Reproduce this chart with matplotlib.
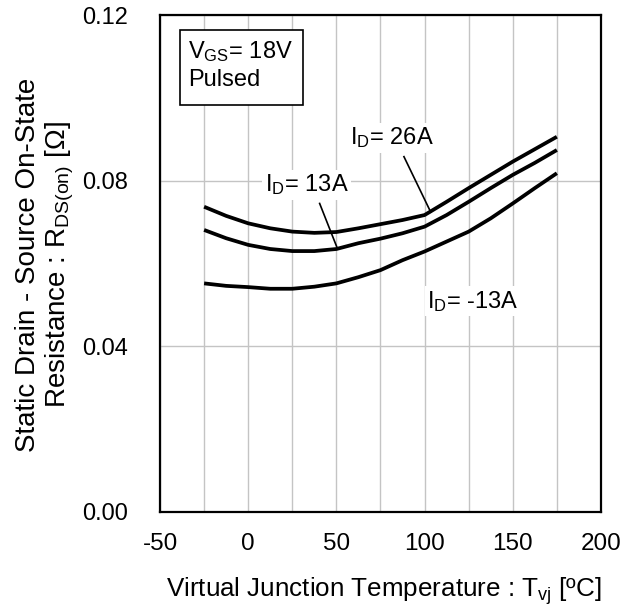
import matplotlib
matplotlib.use("Agg")
import matplotlib.pyplot as plt
from matplotlib.patches import Rectangle
import numpy as np

plt.rcParams['font.family'] = ['Liberation Sans', 'DejaVu Sans']
plt.rcParams['mathtext.fontset'] = 'custom'
plt.rcParams['mathtext.rm'] = 'Liberation Sans'
plt.rcParams['mathtext.it'] = 'Liberation Sans:italic'

# junction temperature [degC]
temp = [-25, -12.5, 0, 12.5, 25, 37.5, 50, 62.5, 75, 87.5, 100, 112.5, 125, 137.5, 150, 162.5, 175]

# on-state resistance [ohm]
rds_26a = [0.0737, 0.0715, 0.0697, 0.0685, 0.0677, 0.0674, 0.0676, 0.0685, 0.0695,
           0.0705, 0.0717, 0.0749, 0.0782, 0.0814, 0.0846, 0.0876, 0.0906]
rds_13a = [0.0681, 0.0661, 0.0645, 0.0635, 0.0630, 0.0630, 0.0635, 0.0649, 0.0660,
           0.0673, 0.0689, 0.0717, 0.0749, 0.0782, 0.0814, 0.0843, 0.0874]
rds_m13a = [0.0552, 0.0546, 0.0543, 0.0539, 0.0539, 0.0544, 0.0552, 0.0567, 0.0584,
            0.0608, 0.0629, 0.0653, 0.0677, 0.0709, 0.0745, 0.0782, 0.0818]

xticks = [-50, 0, 50, 100, 150, 200]
yticks = [0.00, 0.04, 0.08, 0.12]

fs = 17
fig = plt.figure(figsize=(6.29, 6.13), dpi=100)
ax = fig.add_axes([0.2544, 0.1648, 0.701, 0.8107])

for rds in (rds_26a, rds_13a, rds_m13a):
    ax.plot(temp, rds, color='black', lw=2.7, solid_capstyle='butt', zorder=3)

ax.set_xlim(-50, 200)
ax.set_ylim(0, 0.12)
ax.set_xticks(xticks)
ax.set_xticklabels([str(t) for t in xticks])
ax.set_xticks(np.arange(-50, 201, 25), minor=True)
ax.set_yticks(yticks)
ax.set_yticklabels(['%.2f' % t for t in yticks])
ax.grid(which='both', axis='x', color='#c4c4c4', lw=1.0, zorder=0)
ax.grid(which='major', axis='y', color='#c4c4c4', lw=1.0, zorder=0)
ax.tick_params(axis='both', which='both', length=0, labelsize=fs)
ax.tick_params(axis='x', pad=15, labelsize=17.5)
ax.tick_params(axis='y', pad=23)
for s in ax.spines.values():
    s.set_linewidth(1.6)

# condition box
ax.add_patch(Rectangle((0.0454, 0.819), 0.279, 0.151, transform=ax.transAxes,
                       fill=True, facecolor='white', edgecolor='black', lw=1.2, zorder=4))
ax.text(0.0635, 0.926, r'V$_\mathregular{GS}$= 18V', transform=ax.transAxes,
        fontsize=fs, ha='left', va='center', zorder=5)
ax.text(0.0635, 0.869, 'Pulsed', transform=ax.transAxes,
        fontsize=fs, ha='left', va='center', zorder=5)

# curve labels with leader lines
box = dict(facecolor='white', edgecolor='none', pad=2)
ax.text(81.7, 0.0903, r'I$_\mathregular{D}$= 26A', fontsize=fs, ha='center', va='center',
        bbox=box, zorder=2)
ax.plot([88.3, 103.5], [0.0858, 0.0724], color='black', lw=1.2, zorder=3)
ax.text(33.2, 0.0790, r'I$_\mathregular{D}$= 13A', fontsize=fs, ha='center', va='center',
        bbox=box, zorder=2)
ax.plot([40.5, 50.6], [0.0745, 0.0636], color='black', lw=1.2, zorder=3)
ax.text(127.6, 0.0509, r'I$_\mathregular{D}$= -13A', fontsize=fs, ha='center', va='center',
        bbox=box, zorder=2)

fig.text(0.072, 0.568, 'Static Drain - Source On-State\n'
         r'Resistance : R$_\mathregular{DS(on)}$ [Ω]',
         rotation=90, ha='center', va='center', fontsize=20, linespacing=1.1)
fig.text(0.6105, 0.035, r'Virtual Junction Temperature : T$_\mathregular{vj}$ [ºC]',
         ha='center', va='center', fontsize=18.7)

fig.savefig('out.png', dpi=100)
